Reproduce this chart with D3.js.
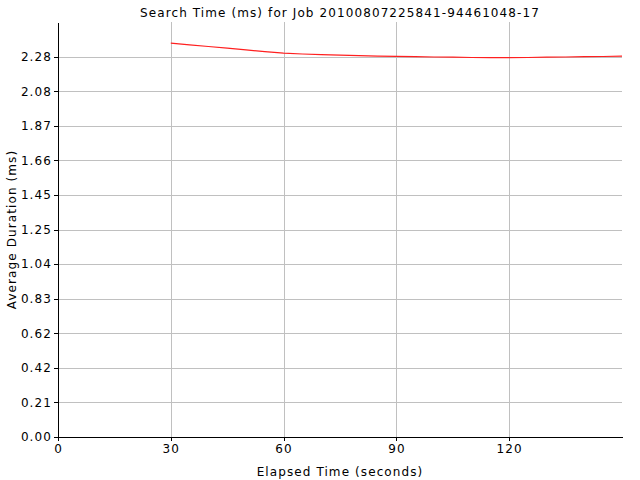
<!DOCTYPE html>
<html>
<head>
<meta charset="utf-8">
<script src="https://cdn.jsdelivr.net/npm/d3@7"></script>
<style>
  body { margin: 0; background: #fff; }
  svg text { font-family: "DejaVu Sans", sans-serif; font-size: 12px; fill: #000; letter-spacing: 1.1px; }
  .grid line { stroke: #c0c0c0; stroke-width: 1; shape-rendering: crispEdges; }
  .axis path, .axis line { stroke: #000; shape-rendering: crispEdges; }
</style>
</head>
<body>
<div id="graf"></div>
<script>
// data
const segundos = [30, 35, 40, 45, 50, 55, 60, 65, 70, 75, 80, 85, 90, 95, 100, 105, 110, 115, 120, 125, 130, 135, 140, 145, 150]
const duracion = [2.363, 2.353, 2.343, 2.333, 2.323, 2.312, 2.303, 2.298, 2.294, 2.291, 2.288, 2.285, 2.284, 2.282, 2.280, 2.279, 2.277, 2.276, 2.276, 2.277, 2.279, 2.280, 2.282, 2.283, 2.285]
const xTicks = [0, 30, 60, 90, 120]
const yTickLabels = ['0.00', '0.21', '0.42', '0.62', '0.83', '1.04', '1.25', '1.45', '1.66', '1.87', '2.08', '2.28']
const yStep = 0.2075
const yMax = yStep * 12

const anchoTotal = 640
const altoTotal = 480
const margins = { left: 58, top: 22, right: 18, bottom: 43 }
const ancho = anchoTotal - margins.left - margins.right
const alto = altoTotal - margins.top - margins.bottom

const svg = d3.select('#graf')
  .append('svg')
  .attr('width', anchoTotal)
  .attr('height', altoTotal)

const g = svg.append('g')
  .attr('transform', `translate(${margins.left}, ${margins.top})`)

const x = d3.scaleLinear().domain([0, 150]).range([0, ancho])
const y = d3.scaleLinear().domain([0, yMax]).range([alto, 0])
const yTicks = yTickLabels.map((d, i) => i * yStep)

// grid
g.append('g').attr('class', 'grid')
  .selectAll('line.h')
  .data(yTicks.slice(1))
  .enter()
  .append('line')
  .attr('x1', 0).attr('x2', ancho)
  .attr('y1', d => Math.round(y(d)) + 0.5)
  .attr('y2', d => Math.round(y(d)) + 0.5)

g.append('g').attr('class', 'grid')
  .selectAll('line.v')
  .data(xTicks.slice(1))
  .enter()
  .append('line')
  .attr('y1', 0).attr('y2', alto)
  .attr('x1', d => Math.round(x(d)) + 0.5)
  .attr('x2', d => Math.round(x(d)) + 0.5)

// axes
const xAxis = d3.axisBottom(x).tickValues(xTicks).tickSizeInner(4).tickSizeOuter(0).tickPadding(3)
const yAxis = d3.axisLeft(y).tickValues(yTicks).tickFormat((d, i) => yTickLabels[i]).tickSizeInner(4).tickSizeOuter(0).tickPadding(2)

g.append('g')
  .attr('class', 'axis')
  .attr('transform', `translate(0, ${alto})`)
  .call(xAxis)

g.append('g')
  .attr('class', 'axis')
  .call(yAxis)

g.selectAll('.axis text').style('font-size', '12px').attr('fill', '#222')

// line
const linea = d3.line()
  .x((d, i) => x(segundos[i]))
  .y(d => y(d))

g.append('path')
  .datum(duracion)
  .attr('d', linea)
  .attr('fill', 'none')
  .attr('stroke', '#ff2020')
  .attr('stroke-width', 1.2)

// titles
svg.append('text')
  .attr('x', margins.left + ancho / 2)
  .attr('y', 17)
  .attr('text-anchor', 'middle')
  .text('Search Time (ms) for Job 20100807225841-94461048-17')

svg.append('text')
  .attr('x', margins.left + ancho / 2)
  .attr('y', 476)
  .attr('text-anchor', 'middle')
  .text('Elapsed Time (seconds)')

svg.append('text')
  .attr('transform', `translate(16, ${margins.top + alto / 2}) rotate(-90)`)
  .attr('text-anchor', 'middle')
  .text('Average Duration (ms)')
</script>
</body>
</html>
